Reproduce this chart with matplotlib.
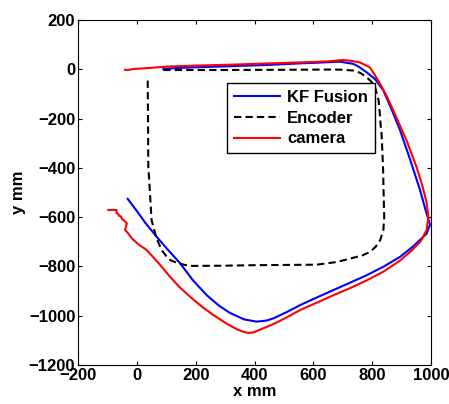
import matplotlib
matplotlib.use("Agg")
import matplotlib.pyplot as plt

# trajectories (mm)
kf_x = [-31, 0, 30, 67, 100, 147, 190, 237, 280, 317, 365, 407, 440, 464, 510, 555, 610, 668, 725, 781,
        840, 895, 940, 985, 997, 985, 963, 930, 895, 865, 838, 810, 781, 755, 736, 690, 600, 555, 450, 300,
        150, 90]
kf_y = [-526, -575, -625, -679, -725, -787, -855, -916, -960, -989, -1015, -1024, -1020, -1011, -985, -957,
        -927, -896, -866, -836, -800, -761, -718, -667, -630, -586, -491, -370, -248, -160, -86, -40, -12, 10,
        22, 31, 26, 24, 18, 12, 6, 2]

cam_x = [-97, -69, -69, -64, -60, -55, -50, -45, -34, -40, -30, -17, 5, 33, 75, 113, 145, 181, 220, 260,
         305, 340, 362, 380, 396, 430, 460, 480, 520, 555, 610, 668, 725, 781, 840, 895, 930, 963, 985,
         991, 985, 970, 951, 917, 895, 872, 850, 827, 810, 792, 758, 730, 702, 650, 555, 450, 328, 200, 101,
         50, -12, -30, -40]
cam_y = [-571, -571, -584, -586, -595, -596, -608, -612, -625, -652, -665, -686, -710, -733, -788, -842,
         -884, -923, -962, -997, -1032, -1055, -1065, -1070, -1068, -1051, -1036, -1025, -1000, -977,
         -948, -917, -888, -857, -820, -776, -740, -701, -653, -599, -540, -470, -397, -289, -230, -167,
         -110, -59, -25, 8, 28, 34, 38, 32, 28, 24, 19, 15, 11, 6, 1, -3, -2]

enc_x = [37, 38, 39, 42, 50, 67, 84, 100, 113, 135, 160, 181, 300, 396, 500, 611, 680, 725, 765, 793, 812,
         827, 838, 841, 840, 837, 832, 829, 827, 822, 810, 797, 781, 760, 736, 700, 668, 500, 300, 90]
enc_y = [-46, -200, -397, -449, -612, -686, -733, -758, -774, -785, -793, -798, -797, -795, -794, -793,
         -782, -768, -756, -741, -720, -694, -653, -600, -559, -400, -262, -230, -194, -127, -73, -50, -32,
         -15, -5, -2, -1, -2, -3, -3]

plt.rcParams["font.family"] = ["Liberation Sans", "DejaVu Sans"]
plt.rcParams["font.weight"] = "bold"

fig = plt.figure(figsize=(4.49, 4.04), dpi=100)
ax = fig.add_axes([78 / 449, 39 / 404, 353 / 449, 345 / 404])

ax.plot(kf_x, kf_y, color="#0000ff", lw=1.5, label="KF Fusion")
ax.plot(enc_x, enc_y, color="black", lw=1.5, ls=(0, (3.5, 2)), label="Encoder")
ax.plot(cam_x, cam_y, color="#ff0000", lw=1.5, label="camera")

ax.set_xlim(-200, 1000)
ax.set_ylim(-1200, 200)
ax.set_xticks(range(-200, 1001, 200))
ax.set_yticks(range(-1200, 201, 200))
ax.tick_params(direction="in", top=True, right=True, length=3, labelsize=12, pad=2)
for lab in ax.get_xticklabels() + ax.get_yticklabels():
    lab.set_fontweight("bold")
ax.set_xlabel("x mm", fontsize=12, fontweight="bold", labelpad=1)
ax.set_ylabel("y mm", fontsize=12, fontweight="bold", labelpad=2)

leg = ax.legend(loc="upper left", bbox_to_anchor=(0.422, 0.817), fontsize=12, frameon=True,
                fancybox=False, edgecolor="black", framealpha=1, borderpad=0.4,
                handlelength=2.8, handletextpad=0.4, labelspacing=0.35, borderaxespad=0)
leg.get_frame().set_linewidth(1.0)
for t in leg.get_texts():
    t.set_fontweight("bold")

fig.savefig("out.png", dpi=100)
